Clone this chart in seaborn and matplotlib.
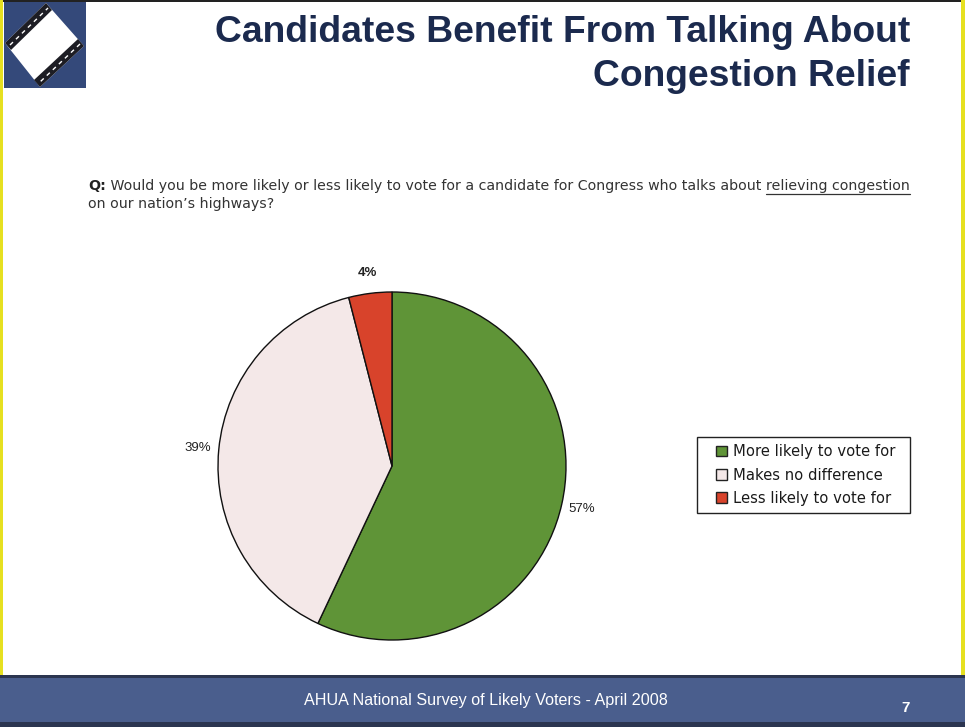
import matplotlib
matplotlib.use("Agg")
import matplotlib.pyplot as plt
import matplotlib.patches as mpatches
import seaborn as sns

sns.set_theme(style="white")
plt.rcParams['font.family'] = ['Liberation Sans', 'DejaVu Sans']

# ---- data ----
categories = ["More likely to vote for", "Makes no difference", "Less likely to vote for"]
values = [57, 39, 4]
value_labels = ["57%", "39%", "4%"]
colors = ["#5f9437", "#f4e8e8", "#d8432b"]

title_lines = ["Candidates Benefit From Talking About", "Congestion Relief"]
question_q = "Q:"
question_a = " Would you be more likely or less likely to vote for a candidate for Congress who talks about "
question_u = "relieving congestion"
question_line2 = "on our nation\u2019s highways?"
footer_text = "AHUA National Survey of Likely Voters - April 2008"
page_number = "7"

W, H = 965, 727
fig = plt.figure(figsize=(W / 100, H / 100), dpi=100)
fig.patch.set_facecolor("white")

# background / decoration axes in pixel coordinates
bg = fig.add_axes([0, 0, 1, 1])
bg.set_xlim(0, W)
bg.set_ylim(H, 0)
bg.axis("off")

# page borders
bg.add_patch(mpatches.Rectangle((0, 0), W, 2, color="#222222", lw=0))
bg.add_patch(mpatches.Rectangle((0, 0), 3, H, color="#e6e020", lw=0))
bg.add_patch(mpatches.Rectangle((W - 4, 0), 4, H, color="#e6e020", lw=0))

# footer band
bg.add_patch(mpatches.Rectangle((0, 677), W, 46, color="#4a5e8d", lw=0))
bg.add_patch(mpatches.Rectangle((0, 675), W, 2.5, color="#2b3550", lw=0))
bg.add_patch(mpatches.Rectangle((0, 722), W, 5, color="#2b3550", lw=0))
bg.text(486, 700, footer_text, color="white", fontsize=11.6, ha="center", va="center")
bg.text(906, 708, page_number, color="white", fontsize=11, fontweight="bold", ha="center", va="center")

# logo
bg.add_patch(mpatches.Rectangle((4, 2), 82, 86, color="#34497a", lw=0))
diamond = mpatches.Polygon([(46, 3), (84, 46), (40, 87), (5, 43)], closed=True,
                           facecolor="white", edgecolor="none")
bg.add_patch(diamond)
bg.add_patch(mpatches.Polygon([(5, 43), (46, 3), (52, 10), (11, 50)], closed=True,
                              facecolor="#1d1d24", edgecolor="none"))
bg.add_patch(mpatches.Polygon([(84, 46), (40, 87), (34, 80), (78, 39)], closed=True,
                              facecolor="#1d1d24", edgecolor="none"))
for (x0, y0, x1, y1) in [(10, 45, 48, 8), (80, 44, 40, 82)]:
    bg.plot([x0, x1], [y0, y1], color="white", lw=1, ls=(0, (3, 3)))

# title
bg.text(910, 33, title_lines[0], color="#1b2a4e", fontsize=26.8, fontweight="bold",
        ha="right", va="center")
bg.text(910, 77, title_lines[1], color="#1b2a4e", fontsize=26.8, fontweight="bold",
        ha="right", va="center")

# question text (pieces placed sequentially)
fig.canvas.draw()
r = fig.canvas.get_renderer()
qfs = 10.2
qfam = ['DejaVu Sans']
x = 88
t = bg.text(x, 186, question_q, fontsize=qfs, fontweight="bold", color="#222222",
            va="center", family=qfam)
x += t.get_window_extent(r).width
t = bg.text(x, 186, question_a, fontsize=qfs, color="#333333", va="center", family=qfam)
x += t.get_window_extent(r).width
t = bg.text(x, 186, question_u, fontsize=qfs, color="#333333", va="center", family=qfam)
wu = t.get_window_extent(r).width
bg.plot([x, x + wu], [194, 194], color="#333333", lw=0.9)
bg.text(88, 204, question_line2, fontsize=qfs, color="#333333", va="center", family=qfam)

# pie
cx, cy, rad = 392, 466, 174
half = rad * 1.25
ax = fig.add_axes([(cx - half) / W, (H - cy - half) / H, 2 * half / W, 2 * half / H])
wedges, texts = ax.pie(values, colors=colors, startangle=90, counterclock=False,
                       labels=value_labels, labeldistance=1.12,
                       wedgeprops=dict(edgecolor="#111111", linewidth=1.0),
                       textprops=dict(fontsize=9.5, color="#222222"))
for tx in texts:
    tx.set_ha("center")
texts[2].set_fontweight("bold")
ax.set_xlim(-1.25, 1.25)
ax.set_ylim(-1.25, 1.25)
ax.set_aspect("equal")

# legend (frame drawn separately for wider padding)
bg.add_patch(mpatches.Rectangle((697, 437), 213, 76, facecolor="white",
                                edgecolor="#222222", lw=1, zorder=3))
handles = [mpatches.Patch(facecolor=c, edgecolor="#222222", lw=1) for c in colors]
leg = fig.legend(handles, categories, loc="upper left",
                 bbox_to_anchor=(712 / W, 1 - 440 / H), bbox_transform=fig.transFigure,
                 borderaxespad=0, prop=dict(family='DejaVu Sans', size=10.6),
                 frameon=False, handlelength=0.7,
                 handleheight=0.7, handletextpad=0.45, borderpad=0.3, labelspacing=0.55)
for txt in leg.get_texts():
    txt.set_color("#1a1a1a")

fig.savefig("out.png", dpi=100, facecolor="white")
